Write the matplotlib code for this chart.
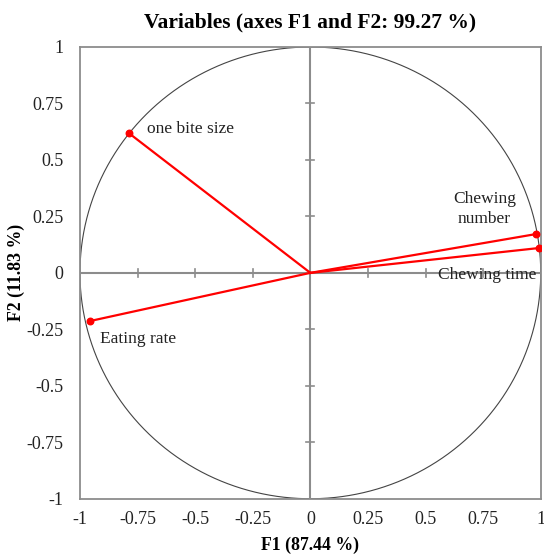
import numpy as np
import matplotlib
matplotlib.use("Agg")
import matplotlib.pyplot as plt

# PCA loadings
variables = ["one bite size", "Chewing number", "Chewing time", "Eating rate"]
f1 = [-0.787, 0.981, 0.993, -0.955]
f2 = [0.618, 0.172, 0.110, -0.213]

ticks = [-1, -0.75, -0.5, -0.25, 0, 0.25, 0.5, 0.75, 1]
tick_labels = ["-1", "-0.75", "-0.5", "-0.25", "0", "0.25", "0.5", "0.75", "1"]

plt.rcParams['font.family'] = ['Liberation Serif', 'DejaVu Serif']

fig = plt.figure(figsize=(5.44, 5.56), dpi=100)
ax = fig.add_axes([0.147, 0.103, 0.847, 0.8125])

# unit circle
t = np.linspace(0, 2 * np.pi, 400)
ax.plot(np.cos(t), np.sin(t), color='#444444', lw=0.8, zorder=1)

# center axes with small ticks
grey = '#8c8c8c'
ax.axhline(0, color=grey, lw=1.5, zorder=2)
ax.axvline(0, color=grey, lw=1.5, zorder=2)
for v in ticks:
    if v in (-1, 0, 1):
        continue
    ax.plot([v, v], [-0.018, 0.018], color=grey, lw=1.2, zorder=2)
    ax.plot([-0.018, 0.018], [v, v], color=grey, lw=1.2, zorder=2)

# vectors
for x, y in zip(f1, f2):
    ax.plot([0, x], [0, y], color='#ff0000', lw=1.6, zorder=3)
ax.scatter(f1, f2, color='#ff0000', s=22, zorder=4)

# labels
offsets = {
    "one bite size": (18, 4, 'left', 'center'),
    "Chewing number": (-52, 25, 'center', 'center'),
    "Chewing time": (-101, -27, 'left', 'center'),
    "Eating rate": (10, -18, 'left', 'center'),
}
for name, x, y in zip(variables, f1, f2):
    dx, dy, ha, va = offsets[name]
    label = "Chewing\nnumber" if name == "Chewing number" else name
    ax.annotate(label, (x, y), xytext=(dx, dy), textcoords='offset pixels',
                ha=ha, va=va, fontsize=12.5, color='#222222', linespacing=1.3)

ax.set_xlim(-1, 1)
ax.set_ylim(-1, 1)
ax.set_xticks(ticks)
ax.set_xticklabels(tick_labels)
ax.set_yticks(ticks)
ax.set_yticklabels(tick_labels)
ax.tick_params(length=0, labelsize=13, colors='#222222')
ax.tick_params(axis='x', pad=9)
ax.tick_params(axis='y', pad=12)
for s in ax.spines.values():
    s.set_color(grey)
    s.set_linewidth(1.3)

ax.set_title("Variables (axes F1 and F2: 99.27 %)", fontsize=15.5, fontweight='bold', pad=14)
ax.set_xlabel("F1 (87.44 %)", fontsize=12.8, fontweight='bold', labelpad=6)
ax.set_ylabel("F2 (11.83 %)", fontsize=12.8, fontweight='bold', labelpad=1)

fig.savefig("out.png", dpi=100)
